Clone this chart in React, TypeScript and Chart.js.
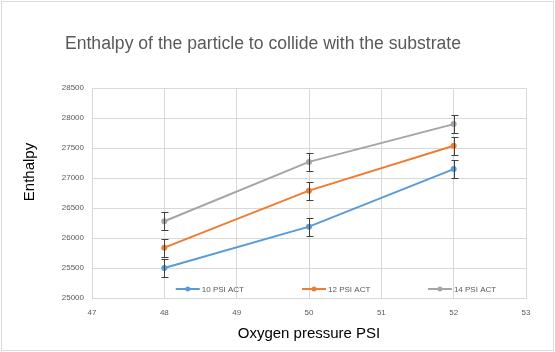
import React, { useEffect, useRef } from "react";
import { Chart, registerables } from "chart.js";

Chart.register(...registerables);

const xValues = [48, 50, 52];
const seriesNames = ["10 PSI ACT", "12 PSI ACT", "14 PSI ACT"];
const psi10 = [25500, 26190, 27150];
const psi12 = [25840, 26790, 27540];
const psi14 = [26280, 27270, 27900];
const errors10 = [150, 150, 150];
const errors12 = [150, 150, 150];
const errors14 = [150, 150, 150];
const colors = ["#5b9bd5", "#ed7d31", "#a5a5a5"];
const yTicks = [25000, 25500, 26000, 26500, 27000, 27500, 28000, 28500];
const xTicks = [47, 48, 49, 50, 51, 52, 53];
const yTitle = "Enthalpy";

const FONT = "'Liberation Sans', Arial, sans-serif";

const errorBarPlugin = {
  id: "errorBars",
  afterDatasetsDraw(chart: any) {
    const ctx = chart.ctx;
    const xs = chart.scales.x;
    const ys = chart.scales.y;
    ctx.save();
    ctx.strokeStyle = "#404040";
    ctx.lineWidth = 1;
    chart.data.datasets.forEach((ds: any) => {
      ds.data.forEach((p: any, i: number) => {
        const e = ds.errors[i];
        const px = Math.round(xs.getPixelForValue(p.x)) + 0.5;
        const top = Math.round(ys.getPixelForValue(p.y + e)) + 0.5;
        const bot = Math.round(ys.getPixelForValue(p.y - e)) + 0.5;
        ctx.beginPath();
        ctx.moveTo(px, top);
        ctx.lineTo(px, bot);
        ctx.moveTo(px - 3, top);
        ctx.lineTo(px + 4, top);
        ctx.moveTo(px - 3, bot);
        ctx.lineTo(px + 4, bot);
        ctx.stroke();
      });
    });
    ctx.restore();
  },
};

const innerLegendPlugin = {
  id: "innerLegend",
  afterDraw(chart: any) {
    const ctx = chart.ctx;
    const area = chart.chartArea;
    const w = area.right - area.left;
    const fracs = [0.193, 0.484, 0.774];
    const y = area.bottom - 9;
    ctx.save();
    chart.data.datasets.forEach((ds: any, i: number) => {
      const x0 = area.left + w * fracs[i];
      ctx.strokeStyle = ds.borderColor;
      ctx.lineWidth = 2;
      ctx.beginPath();
      ctx.moveTo(x0, y);
      ctx.lineTo(x0 + 24, y);
      ctx.stroke();
      ctx.fillStyle = ds.borderColor;
      ctx.beginPath();
      ctx.arc(x0 + 12, y, 2.5, 0, Math.PI * 2);
      ctx.fill();
      ctx.fillStyle = "#595959";
      ctx.font = `8px ${FONT}`;
      ctx.textBaseline = "middle";
      ctx.textAlign = "left";
      ctx.fillText(ds.label, x0 + 26, y + 0.5);
    });
    // y axis title
    ctx.translate(30, 172);
    ctx.rotate(-Math.PI / 2);
    ctx.fillStyle = "#000000";
    ctx.font = `15px ${FONT}`;
    ctx.textAlign = "center";
    ctx.textBaseline = "middle";
    ctx.fillText(yTitle, 0, 0);
    ctx.restore();
  },
};

const bgPlugin = {
  id: "bgBorder",
  beforeDraw(chart: any) {
    const ctx = chart.ctx;
    ctx.save();
    ctx.fillStyle = "#ffffff";
    ctx.fillRect(0, 0, chart.width, chart.height);
    ctx.strokeStyle = "#dcdcdc";
    ctx.lineWidth = 1;
    ctx.strokeRect(1.5, 1.5, chart.width - 3, chart.height - 3);
    ctx.restore();
  },
};

export default function App() {
  const ref = useRef<HTMLCanvasElement | null>(null);
  useEffect(() => {
    if (!ref.current) return;
    const all = [psi10, psi12, psi14];
    const errs = [errors10, errors12, errors14];
    const chart = new Chart(ref.current, {
      type: "line",
      data: {
        datasets: seriesNames.map((name, i) => ({
          label: name,
          data: xValues.map((x, j) => ({ x, y: all[i][j] })),
          errors: errs[i],
          borderColor: colors[i],
          backgroundColor: colors[i],
          borderWidth: 2,
          pointRadius: 3,
          pointBorderWidth: 0,
          pointBackgroundColor: colors[i],
          tension: 0,
        })) as any,
      },
      options: {
        animation: false,
        responsive: false,
        maintainAspectRatio: false,
        layout: { padding: { left: 0, right: 29, top: 0, bottom: 0 } },
        plugins: {
          legend: { display: false },
          tooltip: { enabled: false },
          title: {
            display: true,
            text: "Enthalpy of the particle to collide with the substrate",
            color: "#595959",
            font: { size: 17.6, family: FONT, weight: "normal" },
            padding: { top: 34, bottom: 33 },
          },
        },
        scales: {
          x: {
            type: "linear",
            min: 47,
            max: 53,
            afterBuildTicks: (s: any) => {
              s.ticks = xTicks.map((v) => ({ value: v }));
            },
            afterFit: (s: any) => {
              s.height = 54;
            },
            grid: { color: "#d9d9d9", drawTicks: false },
            border: { color: "#d9d9d9" },
            ticks: {
              color: "#595959",
              font: { size: 8, family: FONT },
              padding: 10,
            },
            title: {
              display: true,
              text: "Oxygen pressure PSI",
              color: "#000000",
              font: { size: 15, family: FONT },
              padding: { top: 6, bottom: 9 },
            },
          },
          y: {
            type: "linear",
            min: 25000,
            max: 28500,
            afterBuildTicks: (s: any) => {
              s.ticks = yTicks.map((v) => ({ value: v }));
            },
            afterFit: (s: any) => {
              s.width = 92;
            },
            grid: { color: "#d9d9d9", drawTicks: false },
            border: { color: "#d9d9d9" },
            ticks: {
              color: "#595959",
              font: { size: 8, family: FONT },
              padding: 8,
              callback: (v: any) => String(v),
            },
            title: { display: false },
          },
        },
      } as any,
      plugins: [bgPlugin, errorBarPlugin, innerLegendPlugin],
    });
    return () => chart.destroy();
  }, []);
  return (
    <div style={{ position: "fixed", left: 0, top: 0, width: 555, height: 352 }}>
      <canvas ref={ref} width={555} height={352} style={{ width: 555, height: 352 }} />
    </div>
  );
}
